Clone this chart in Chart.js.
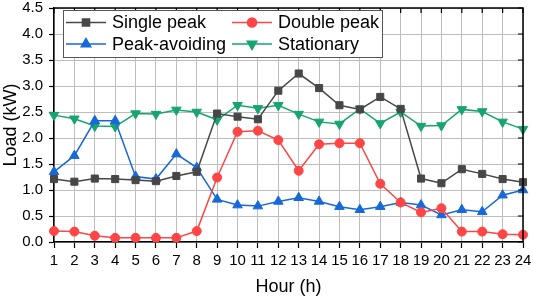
<!DOCTYPE html>
<html>
<head>
<meta charset="utf-8">
<script src="https://cdn.jsdelivr.net/npm/chart.js@4/dist/chart.umd.min.js"></script>
<style>
  html, body { margin: 0; padding: 0; background: #fff; }
  #wrap { width: 533px; height: 299px; }
</style>
</head>
<body>
<div id="wrap"><canvas id="loadChart" width="533" height="299"></canvas></div>
<script>
var hours = ["1", "2", "3", "4", "5", "6", "7", "8", "9", "10", "11", "12",
             "13", "14", "15", "16", "17", "18", "19", "20", "21", "22", "23", "24"];

var singlePeak = [1.21, 1.16, 1.22, 1.21, 1.19, 1.17, 1.27, 1.35, 2.47, 2.41, 2.36, 2.91,
                  3.24, 2.96, 2.63, 2.55, 2.79, 2.56, 1.22, 1.13, 1.40, 1.31, 1.21, 1.15];
var doublePeak = [0.21, 0.20, 0.12, 0.08, 0.08, 0.08, 0.08, 0.21, 1.24, 2.12, 2.14, 1.96,
                  1.37, 1.88, 1.90, 1.90, 1.12, 0.76, 0.57, 0.65, 0.20, 0.20, 0.15, 0.14];
var peakAvoiding = [1.35, 1.66, 2.33, 2.33, 1.26, 1.21, 1.69, 1.43, 0.82, 0.71, 0.69, 0.78,
                    0.85, 0.78, 0.68, 0.62, 0.68, 0.76, 0.71, 0.52, 0.62, 0.58, 0.90, 1.00];
var stationary = [2.44, 2.37, 2.23, 2.22, 2.47, 2.46, 2.54, 2.50, 2.35, 2.63, 2.57, 2.63,
                  2.46, 2.31, 2.27, 2.56, 2.28, 2.50, 2.23, 2.24, 2.55, 2.51, 2.31, 2.17];

var seriesNames = ["Single peak", "Double peak", "Peak-avoiding", "Stationary"];

Chart.defaults.font.family = "'Liberation Sans', Arial, sans-serif";
Chart.defaults.color = "#000";

function makeSet(label, data, color, style, radius, rot) {
    return {
        label: label,
        data: data,
        borderColor: color,
        backgroundColor: color,
        pointBackgroundColor: color,
        pointBorderColor: color,
        borderWidth: 1.5,
        pointStyle: style,
        pointRadius: radius,
        pointRotation: rot || 0,
        pointBorderWidth: 1,
        tension: 0
    };
}

// frame + mirrored ticks on top/right, and the boxed legend
var framePlugin = {
    id: "frame",
    afterDraw: function(chart) {
        var ctx = chart.ctx;
        var a = chart.chartArea;
        var xs = chart.scales.x, ys = chart.scales.y;
        ctx.save();
        ctx.strokeStyle = "#000";
        ctx.lineWidth = 1.5;
        ctx.beginPath();
        ctx.moveTo(a.left, a.top);
        ctx.lineTo(a.right, a.top);
        ctx.lineTo(a.right, a.bottom);
        ctx.stroke();

        ctx.lineWidth = 1.2;
        ctx.beginPath();
        for (var i = 0; i < xs.ticks.length; i++) {
            var px = xs.getPixelForTick(i);
            ctx.moveTo(px, a.top);
            ctx.lineTo(px, a.top + 5);
        }
        for (var j = 0; j < ys.ticks.length; j++) {
            var py = ys.getPixelForTick(j);
            ctx.moveTo(a.right, py);
            ctx.lineTo(a.right - 5, py);
        }
        ctx.stroke();

        // legend box
        var bx = 63, by = 10, bw = 319, bh = 47;
        ctx.fillStyle = "#fff";
        ctx.fillRect(bx, by, bw, bh);
        ctx.strokeStyle = "#555";
        ctx.lineWidth = 1;
        ctx.strokeRect(bx + 0.5, by + 0.5, bw, bh);

        var cols = [66, 232];
        var rows = [22.5, 44];
        var order = [[0, 1], [2, 3]];
        ctx.font = "18px 'Liberation Sans', Arial, sans-serif";
        ctx.textBaseline = "middle";
        ctx.textAlign = "left";
        for (var r = 0; r < 2; r++) {
            for (var c = 0; c < 2; c++) {
                var ds = chart.data.datasets[order[r][c]];
                var x0 = cols[c], yy = rows[r];
                ctx.strokeStyle = ds.borderColor;
                ctx.lineWidth = 1.5;
                ctx.beginPath();
                ctx.moveTo(x0, yy);
                ctx.lineTo(x0 + 40, yy);
                ctx.stroke();
                ctx.fillStyle = ds.pointBackgroundColor;
                Chart.helpers.drawPoint(ctx, {
                    pointStyle: ds.pointStyle,
                    rotation: ds.pointRotation,
                    radius: ds.pointRadius,
                    borderWidth: 1
                }, x0 + 20, yy);
                ctx.fillStyle = "#000";
                ctx.fillText(ds.label, x0 + 46, yy + 1);
            }
        }
        ctx.restore();
    }
};

var chartInstance = new Chart(document.getElementById("loadChart").getContext("2d"), {
    type: "line",
    data: {
        labels: hours,
        datasets: [
            makeSet(seriesNames[0], singlePeak, "#474747", "rect", 5),
            makeSet(seriesNames[1], doublePeak, "#ff4545", "circle", 4.5),
            makeSet(seriesNames[2], peakAvoiding, "#1769d9", "triangle", 5.5),
            makeSet(seriesNames[3], stationary, "#16a56e", "triangle", 5.5, 180)
        ]
    },
    options: {
        responsive: false,
        animation: false,
        layout: { padding: { top: 8, right: 10, left: 0, bottom: 0 } },
        plugins: {
            legend: { display: false },
            tooltip: { enabled: false }
        },
        scales: {
            x: {
                type: "category",
                offset: false,
                grid: { color: "#bdbdbd", lineWidth: 1, tickLength: 6, tickColor: "#000", tickWidth: 1.2 },
                border: { color: "#000", width: 1.5 },
                ticks: { font: { size: 15 }, color: "#000", padding: 4, maxRotation: 0, autoSkip: false },
                title: { display: true, text: "Hour (h)", font: { size: 18 }, color: "#000", padding: { top: 0, bottom: 1 } },
                afterFit: function(s) {
                    s.height = 57;
                    s.paddingLeft = 0;
                    s.paddingRight = 0;
                }
            },
            y: {
                min: 0,
                max: 4.5,
                grid: { color: "#bdbdbd", lineWidth: 1, tickLength: 5, tickColor: "#000", tickWidth: 1.2 },
                border: { color: "#000", width: 1.5 },
                ticks: {
                    stepSize: 0.5,
                    font: { size: 15 },
                    color: "#000",
                    padding: 6,
                    callback: function(v) { return Number(v).toFixed(1); }
                },
                title: { display: true, text: "Load (kW)", font: { size: 18 }, color: "#000", padding: { top: 0, bottom: 0 } },
                afterFit: function(s) {
                    s.width = 54;
                    s.paddingTop = 0;
                    s.paddingBottom = 0;
                }
            }
        }
    },
    plugins: [framePlugin]
});
</script>
</body>
</html>
